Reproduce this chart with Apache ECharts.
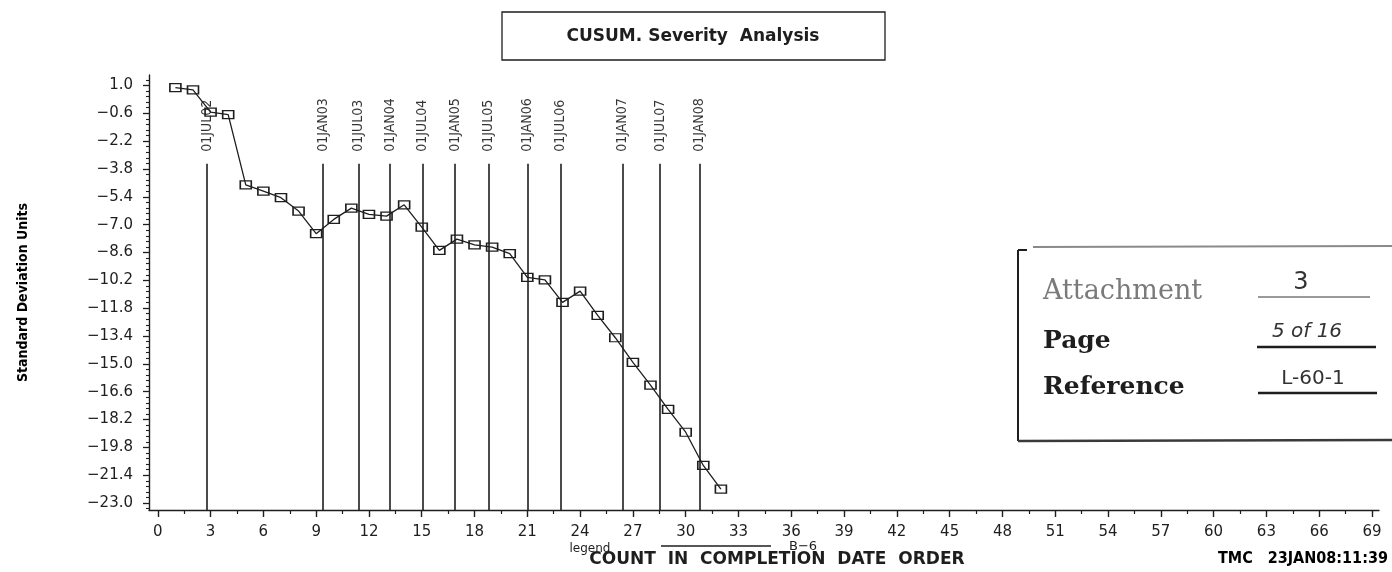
<!DOCTYPE html>
<html>
<head>
<meta charset="utf-8">
<title>CUSUM. Severity Analysis</title>
<script src="https://cdn.jsdelivr.net/npm/echarts@6/dist/echarts.min.js"></script>
<style>
  html, body { margin: 0; padding: 0; background: #fff; }
  #chart { width: 1392px; height: 572px; }
</style>
</head>
<body>
<div id="chart"></div>
<script>
// completions in date order and their cumulative sum (std dev units)
const counts = [1, 2, 3, 4, 5, 6, 7, 8, 9, 10, 11, 12, 13, 14, 15, 16,
  17, 18, 19, 20, 21, 22, 23, 24, 25, 26, 27, 28, 29, 30, 31, 32];
const cusum = [0.87, 0.75, -0.53, -0.68, -4.71, -5.07, -5.45, -6.22, -7.52, -6.70, -6.05, -6.41, -6.51, -5.86, -7.14, -8.48,
  -7.83, -8.16, -8.29, -8.67, -10.03, -10.17, -11.47, -10.82, -12.22, -13.50, -14.92, -16.22, -17.62, -18.93, -20.84, -22.20];

// date reference lines (position on the count axis)
const dateLabels = ['01JUL02', '01JAN03', '01JUL03', '01JAN04', '01JUL04', '01JAN05',
  '01JUL05', '01JAN06', '01JUL06', '01JAN07', '01JUL07', '01JAN08'];
const datePositions = [2.8, 9.4, 11.4, 13.2, 15.05, 16.9, 18.8, 21.0, 22.9, 26.4, 28.55, 30.8];

// axis ticks
const xTicks = [0, 3, 6, 9, 12, 15, 18, 21, 24, 27, 30, 33, 36, 39, 42, 45, 48, 51, 54, 57, 60, 63, 66, 69];
const yTicks = [1.0, -0.6, -2.2, -3.8, -5.4, -7.0, -8.6, -10.2, -11.8, -13.4, -15.0, -16.6, -18.2, -19.8, -21.4, -23.0];

const ink = '#1e1e1e';
const narrow = '"DejaVu Sans Condensed", "Liberation Sans Narrow", "DejaVu Sans"';
const xMin = -0.5, xMax = 69.4;
const yMin = -23.4, yMax = 1.6;
const refTop = -3.5; // where the date lines start

// minor ticks: one between x majors, four between y majors
const xMinor = xTicks.map(t => t + 1.5).filter(t => t < xMax);
const yMinor = [];
const yStep = 0.32;
for (let v = yTicks[yTicks.length - 1] - yStep; v < yMax; v += yStep) {
  const r = Math.round(v * 100) / 100;
  if (r > yMin && !yTicks.some(t => Math.abs(t - r) < 0.01)) yMinor.push(r);
}

const fmtY = v => (v < 0 ? '\u2212' : '') + Math.abs(v).toFixed(1);

const chart = echarts.init(document.getElementById('chart'));

function txt(text, x, y, font, fill, align) {
  return {
    type: 'text',
    silent: true,
    style: {
      text: text, x: x, y: y, font: font, fill: fill || ink,
      align: align || 'left', textAlign: align || 'left',
      verticalAlign: 'middle', textVerticalAlign: 'middle'
    }
  };
}

function seg(x1, y1, x2, y2, color, w) {
  return {
    type: 'line', silent: true,
    shape: { x1: x1, y1: y1, x2: x2, y2: y2 },
    style: { stroke: color || ink, lineWidth: w || 1.5 }
  };
}

chart.setOption({
  animation: false,
  backgroundColor: '#fff',
  grid: { left: 149, right: 13, top: 75, bottom: 62 },
  xAxis: [{
    type: 'value',
    position: 'bottom',
    min: xMin,
    max: xMax,
    axisLine: { onZero: false, lineStyle: { color: ink, width: 1.4 } },
    axisTick: { customValues: xTicks, length: 7, lineStyle: { color: ink, width: 1.4 } },
    axisLabel: { customValues: xTicks, margin: 15, fontFamily: 'DejaVu Sans', fontSize: 15, color: ink },
    splitLine: { show: false }
  }, {
    type: 'value',
    position: 'bottom',
    min: xMin,
    max: xMax,
    axisLine: { show: false, onZero: false },
    axisTick: { customValues: xMinor, length: 4, lineStyle: { color: ink, width: 1.2 } },
    axisLabel: { show: false },
    splitLine: { show: false }
  }],
  yAxis: [{
    type: 'value',
    position: 'left',
    min: yMin,
    max: yMax,
    name: 'Standard Deviation Units',
    nameLocation: 'middle',
    nameRotate: 90,
    nameGap: 119,
    nameTextStyle: { fontFamily: narrow, fontWeight: 'bold', fontSize: 14, color: '#000' },
    axisLine: { onZero: false, lineStyle: { color: ink, width: 1.4 } },
    axisTick: { customValues: yTicks, length: 6, lineStyle: { color: ink, width: 1.3 } },
    axisLabel: { customValues: yTicks, margin: 16, formatter: fmtY, fontFamily: 'DejaVu Sans', fontSize: 15, color: ink },
    splitLine: { show: false }
  }, {
    type: 'value',
    position: 'left',
    min: yMin,
    max: yMax,
    axisLine: { show: false, onZero: false },
    axisTick: { customValues: yMinor, length: 3, lineStyle: { color: ink, width: 1.1 } },
    axisLabel: { show: false },
    splitLine: { show: false }
  }],
  series: [{
    name: 'B-6',
    type: 'line',
    data: counts.map((c, i) => [c, cusum[i]]),
    symbol: 'rect',
    symbolSize: [11, 8],
    lineStyle: { color: ink, width: 1.3 },
    itemStyle: { color: 'rgba(255,255,255,0)', borderColor: ink, borderWidth: 1.4 },
    z: 4
  }, {
    name: 'dates',
    type: 'scatter',
    symbolSize: 0,
    silent: true,
    data: datePositions.map((x, i) => ({ value: [x, refTop], name: dateLabels[i] })),
    label: {
      show: true,
      formatter: '{b}',
      position: 'top',
      distance: 12,
      rotate: 90,
      align: 'left',
      verticalAlign: 'middle',
      fontFamily: narrow,
      fontSize: 14,
      color: '#000'
    },
    markLine: {
      silent: true,
      symbol: 'none',
      label: { show: false },
      lineStyle: { color: ink, width: 1.6, type: 'solid' },
      data: datePositions.map(x => [{ coord: [x, refTop] }, { coord: [x, yMin] }])
    },
    z: 3
  }],
  graphic: [
    // title box
    {
      type: 'rect', silent: true,
      shape: { x: 502, y: 12, width: 383, height: 48 },
      style: { fill: '#fff', stroke: ink, lineWidth: 1.3 }
    },
    txt('CUSUM. Severity  Analysis', 693, 37, 'bold 17px "DejaVu Sans"', ink, 'center'),

    // bottom captions
    txt('legend', 590, 549, '12px "DejaVu Sans"', ink, 'center'),
    seg(661, 546, 771, 546, ink, 1.3),
    txt('B\u22126', 803, 547, '13px "DejaVu Sans"', ink, 'center'),
    txt('COUNT  IN  COMPLETION  DATE  ORDER', 777, 560, 'bold 17px "DejaVu Sans"', ink, 'center'),
    txt('TMC   23JAN08:11:39', 1218, 559, 'bold 16px ' + narrow, '#000', 'left'),

    // attachment stamp
    seg(1033, 247, 1392, 246, '#8a8a8a', 2),
    seg(1018, 250, 1027, 250, ink, 2),
    seg(1018, 250, 1018, 441, ink, 2),
    seg(1018, 441, 1392, 440, '#3a3a3a', 2.5),
    txt('Attachment', 1043, 292, '27px "DejaVu Serif"', '#7a7a7a', 'left'),
    txt('Page', 1043, 341, 'bold 25px "DejaVu Serif"', ink, 'left'),
    txt('Reference', 1043, 387, 'bold 25px "DejaVu Serif"', ink, 'left'),
    seg(1258, 297, 1370, 297, '#9a9a9a', 2),
    seg(1257, 347, 1376, 347, ink, 2.4),
    seg(1258, 393, 1377, 393, ink, 2.4),
    txt('3', 1301, 283, '24px "DejaVu Sans"', '#333', 'center'),
    txt('5 of 16', 1307, 332, 'italic 20px "DejaVu Sans"', '#333', 'center'),
    txt('L-60-1', 1313, 379, '20px "DejaVu Sans"', '#333', 'center')
  ]
});
</script>
</body>
</html>
